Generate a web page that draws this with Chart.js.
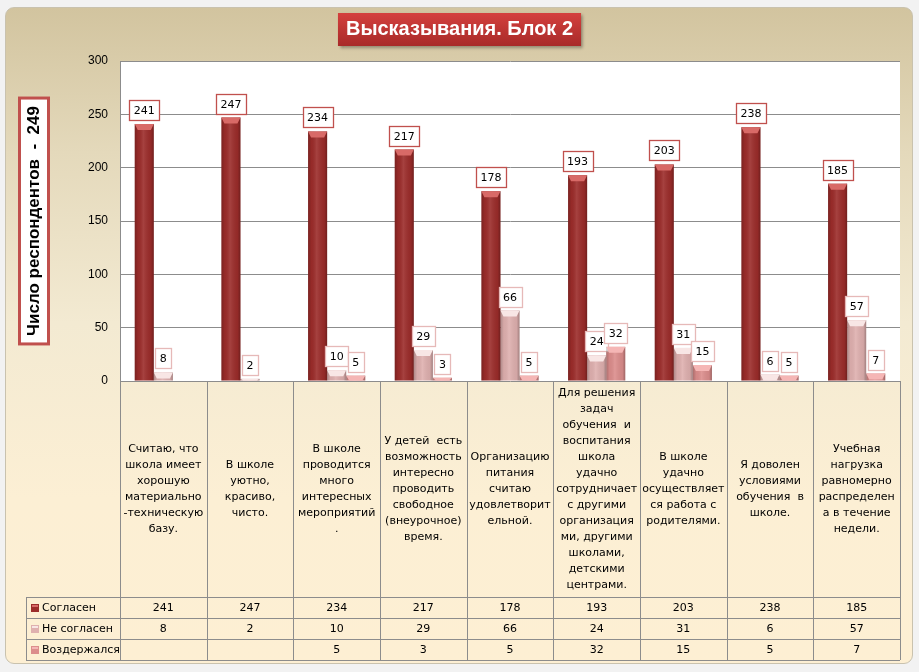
<!DOCTYPE html>
<html>
<head>
<meta charset="utf-8">
<script src="https://cdn.jsdelivr.net/npm/chart.js@4.4.1/dist/chart.umd.min.js"></script>
<style>
  html, body { margin: 0; padding: 0; background: #f2f2f2; }
  #page { position: relative; width: 919px; height: 672px; overflow: hidden; }
  #frame {
    position: absolute; left: 5px; top: 7px; width: 906px; height: 655px;
    border: 1px solid #c9c2ae; border-radius: 9px;
    background: linear-gradient(to bottom, #d2c49f 0%, #e4d9bb 22%, #f3ead2 48%, #fcefd4 75%, #fdefd3 100%);
  }
  #chart { position: absolute; left: 0; top: 0; }
</style>
</head>
<body>
<div id="page">
  <div id="frame"></div>
  <canvas id="chart" width="919" height="672"></canvas>
</div>
<script>
// ── Данные ─────────────────────────────────────────────────────
const chartTitle = "Высказывания. Блок 2";
const yTitle = "Число респондентов  -  249";

const categories = [
  ["Считаю, что", "школа имеет", "хорошую", "материально", "-техническую", "базу."],
  ["В школе", "уютно,", "красиво,", "чисто."],
  ["В школе", "проводится", "много", "интересных", "мероприятий", "."],
  ["У детей  есть", "возможность", "интересно", "проводить", "свободное", "(внеурочное)", "время."],
  ["Организацию", "питания", "считаю", "удовлетворит", "ельной."],
  ["Для решения", "задач", "обучения  и", "воспитания", "школа", "удачно", "сотрудничает", "с другими", "организация", "ми, другими", "школами,", "детскими", "центрами."],
  ["В школе", "удачно", "осуществляет", "ся работа с", "родителями."],
  ["Я доволен", "условиями", "обучения  в", "школе."],
  ["Учебная", "нагрузка", "равномерно", "распределен", "а в течение", "недели."]
];

const seriesNames = ["Согласен", "Не согласен", "Воздержался"];
const agree    = [241, 247, 234, 217, 178, 193, 203, 238, 185];
const disagree = [8, 2, 10, 29, 66, 24, 31, 6, 57];
const abstain  = [null, null, 5, 3, 5, 32, 15, 5, 7];

const yTicks = [0, 50, 100, 150, 200, 250, 300];

// ── Стиль серий ────────────────────────────────────────────────
const FILL   = ["#9c2c2a", "#dfb0af", "#dc8d8c"];
const CAP    = ["#d86a67", "#f8e6e5", "#f5b6b5"];
const LBLBRD = ["#c0504d", "#e6b9b8", "#e6b9b8"];
const GRID   = "#8c8c8c";
const TXT_FONT = '"DejaVu Sans", Verdana, sans-serif';
const HEAD_FONT = "'Liberation Sans', Arial, sans-serif";

// ── Фон: белая область, плашка заголовка, рамка подписи оси ─────
const backdrop = {
  id: "backdrop",
  beforeDraw(chart) {
    const { ctx, chartArea: a } = chart;
    ctx.save();
    ctx.fillStyle = "#fff";
    ctx.fillRect(a.left, a.top, a.right - a.left, a.bottom - a.top);

    // плашка заголовка
    const tb = chart.titleBlock;
    ctx.font = "bold 20px " + HEAD_FONT;
    const tw = ctx.measureText(chartTitle).width + 16;
    const cx = tb.left + tb.width / 2, ty = 13, th = 33;
    ctx.shadowColor = "rgba(0,0,0,0.35)";
    ctx.shadowOffsetX = 2; ctx.shadowOffsetY = 2; ctx.shadowBlur = 3;
    const g = ctx.createLinearGradient(0, ty, 0, ty + th);
    g.addColorStop(0, "#d4403d");
    g.addColorStop(1, "#a82a29");
    ctx.fillStyle = g;
    ctx.fillRect(cx - tw / 2, ty, tw, th);
    ctx.shadowColor = "transparent";

    // рамка подписи оси Y
    ctx.font = "bold 17px " + HEAD_FONT;
    const yw = ctx.measureText(yTitle).width + 16;
    const my = (a.top + a.bottom) / 2;
    ctx.fillStyle = "#fff";
    ctx.fillRect(19.5, my - yw / 2, 29, yw);
    ctx.strokeStyle = "#c0504d";
    ctx.lineWidth = 3;
    ctx.strokeRect(19.5, my - yw / 2, 29, yw);
    ctx.restore();
  }
};

// ── Объём столбцов и подписи значений ──────────────────────────
const barDecor = {
  id: "barDecor",
  afterDatasetsDraw(chart) {
    const { ctx } = chart;
    ctx.save();
    chart.data.datasets.forEach((ds, di) => {
      chart.getDatasetMeta(di).data.forEach((bar, i) => {
        const v = ds.data[i];
        if (v == null) return;
        const x0 = bar.x - bar.width / 2, x1 = bar.x + bar.width / 2;
        const top = bar.y, base = bar.base;

        // цилиндрическая заливка
        const sh = ctx.createLinearGradient(x0, 0, x1, 0);
        sh.addColorStop(0, "rgba(0,0,0,0.22)");
        sh.addColorStop(0.18, "rgba(0,0,0,0.04)");
        sh.addColorStop(0.45, "rgba(255,255,255,0.10)");
        sh.addColorStop(0.85, "rgba(0,0,0,0.06)");
        sh.addColorStop(1, "rgba(0,0,0,0.28)");
        ctx.fillStyle = sh;
        ctx.fillRect(x0, top, x1 - x0, base - top);

        // светлая фаска сверху
        const capH = Math.min(6, base - top);
        ctx.fillStyle = CAP[di];
        ctx.beginPath();
        ctx.moveTo(x0, top);
        ctx.lineTo(x1, top);
        ctx.lineTo(x1 - 3, top + capH);
        ctx.lineTo(x0 + 3, top + capH);
        ctx.closePath();
        ctx.fill();

        // подпись
        ctx.font = "11px " + TXT_FONT;
        const t = String(v);
        const w = ctx.measureText(t).width + 9, h = 20;
        const bx = Math.round(bar.x - w / 2) + 0.5, by = Math.round(top - 4 - h) + 0.5;
        ctx.fillStyle = "#fff";
        ctx.fillRect(bx, by, w, h);
        ctx.strokeStyle = LBLBRD[di];
        ctx.lineWidth = 1.3;
        ctx.strokeRect(bx, by, w, h);
        ctx.fillStyle = "#000";
        ctx.textAlign = "center";
        ctx.textBaseline = "middle";
        ctx.fillText(t, bar.x, by + h / 2 + 1);
      });
    });
    ctx.restore();
  }
};

// ── Таблица данных под графиком ────────────────────────────────
const dataTable = {
  id: "dataTable",
  afterDraw(chart) {
    const { ctx, chartArea: a } = chart;
    const n = categories.length;
    const cw = (a.right - a.left) / n;
    const rowH = 21, tableBottom = 660, tableLeft = 26;
    const rowsTop = tableBottom - rowH * seriesNames.length;
    const px = v => Math.round(v) + 0.5;

    ctx.save();
    ctx.strokeStyle = GRID;
    ctx.lineWidth = 1;
    ctx.beginPath();
    for (let i = 0; i <= n; i++) {
      const x = px(a.left + i * cw);
      ctx.moveTo(x, a.bottom); ctx.lineTo(x, tableBottom);
    }
    ctx.moveTo(px(tableLeft), rowsTop); ctx.lineTo(px(tableLeft), tableBottom);
    for (let r = 0; r <= seriesNames.length; r++) {
      const y = px(rowsTop + r * rowH);
      ctx.moveTo(tableLeft, y); ctx.lineTo(a.right, y);
    }
    ctx.stroke();

    ctx.font = "11px " + TXT_FONT;
    ctx.fillStyle = "#000";
    ctx.textAlign = "center";
    ctx.textBaseline = "middle";

    // подписи категорий
    const midY = (a.bottom + rowsTop) / 2 + 0.5, lh = 16;
    categories.forEach((lines, i) => {
      const cx = a.left + (i + 0.5) * cw;
      const y0 = midY - (lines.length - 1) * lh / 2;
      lines.forEach((s, k) => ctx.fillText(s, cx, y0 + k * lh));
    });

    // строки значений
    const rows = [agree, disagree, abstain];
    rows.forEach((vals, r) => {
      const cy = rowsTop + r * rowH + rowH / 2 + 0.5;
      // значок серии
      const ix = 31, iy = Math.round(cy - 4);
      ctx.fillStyle = FILL[r];
      ctx.fillRect(ix, iy, 8, 8);
      ctx.fillStyle = CAP[r];
      ctx.fillRect(ix + 1, iy + 1, 6, 2);
      ctx.fillStyle = "#000";
      ctx.textAlign = "left";
      ctx.fillText(seriesNames[r], 42, cy);
      ctx.textAlign = "center";
      vals.forEach((v, i) => {
        if (v == null) return;
        ctx.fillText(String(v), a.left + (i + 0.5) * cw, cy);
      });
    });
    ctx.restore();
  }
};

const mk = (label, data, i) => ({
  label, data,
  backgroundColor: FILL[i],
  borderWidth: 0,
  categoryPercentage: 0.66,
  barPercentage: 1.0
});

new Chart(document.getElementById("chart"), {
  type: "bar",
  data: {
    labels: categories,
    datasets: [
      mk(seriesNames[0], agree, 0),
      mk(seriesNames[1], disagree, 1),
      mk(seriesNames[2], abstain, 2)
    ]
  },
  options: {
    responsive: false,
    animation: false,
    devicePixelRatio: 1,
    layout: { padding: { left: 19, right: 19, top: 0, bottom: 291 } },
    plugins: {
      legend: { display: false },
      tooltip: { enabled: false },
      title: {
        display: true,
        text: chartTitle,
        color: "#fff",
        font: { family: HEAD_FONT, size: 20, weight: "bold" },
        padding: { top: 17, bottom: 20 }
      }
    },
    scales: {
      x: { display: false },
      y: {
        min: yTicks[0],
        max: yTicks[yTicks.length - 1],
        ticks: {
          stepSize: yTicks[1] - yTicks[0],
          padding: 12,
          color: "#000",
          font: { family: HEAD_FONT, size: 12 }
        },
        grid: { color: GRID, drawTicks: false },
        border: { color: GRID },
        title: {
          display: true,
          text: yTitle,
          color: "#000",
          font: { family: HEAD_FONT, size: 17, weight: "bold" },
          padding: { top: 5, bottom: 0 }
        },
        afterFit: s => { s.width = 101; }
      }
    }
  },
  plugins: [backdrop, barDecor, dataTable]
});
</script>
</body>
</html>
